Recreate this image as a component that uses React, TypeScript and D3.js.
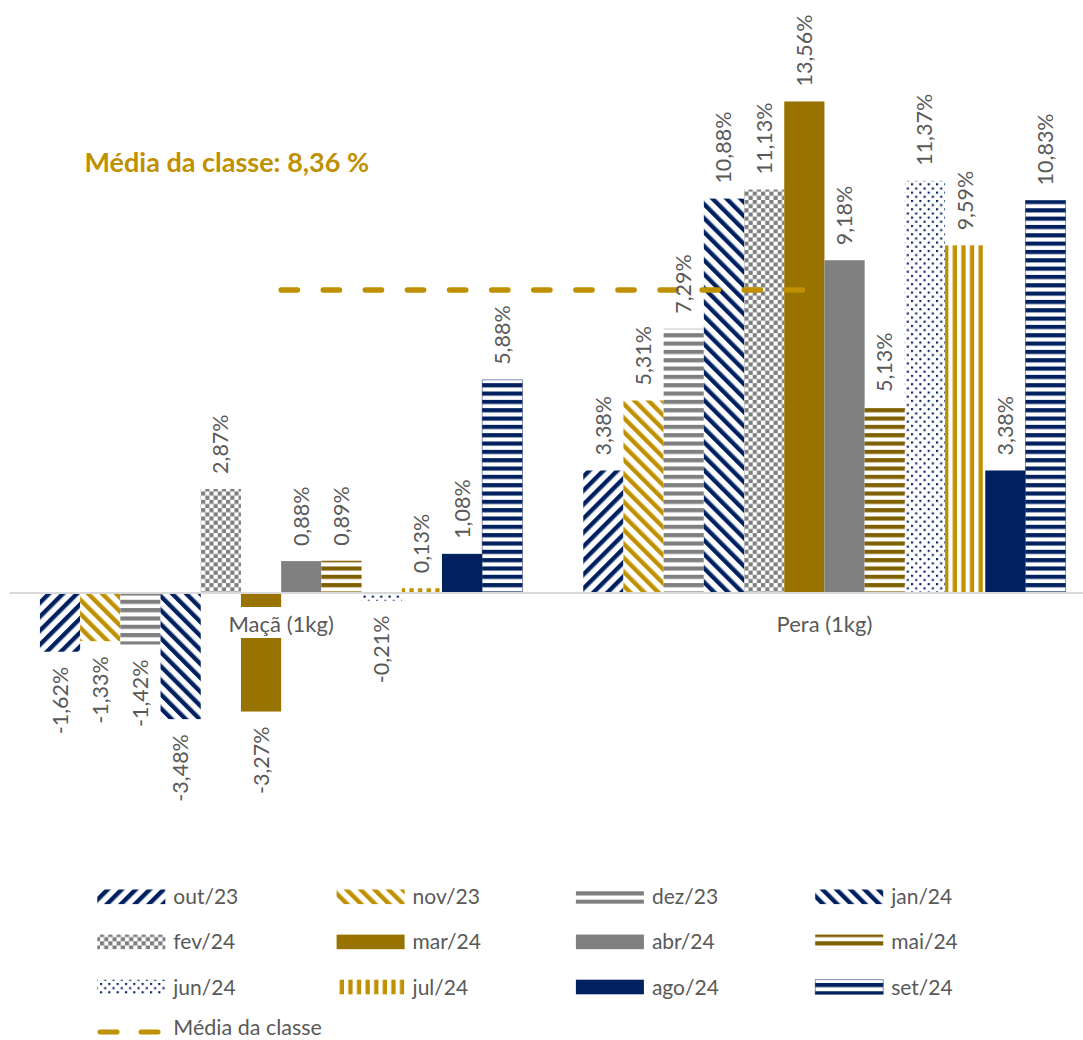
import React from "react";
import * as d3 from "d3";

const categories = ["Maçã (1kg)", "Pera (1kg)"];
const seriesNames = [
  "out/23", "nov/23", "dez/23", "jan/24", "fev/24", "mar/24",
  "abr/24", "mai/24", "jun/24", "jul/24", "ago/24", "set/24",
];
const macaValues = [-1.62, -1.33, -1.42, -3.48, 2.87, -3.27, 0.88, 0.89, -0.21, 0.13, 1.08, 5.88];
const peraValues = [3.38, 5.31, 7.29, 10.88, 11.13, 13.56, 9.18, 5.13, 11.37, 9.59, 3.38, 10.83];
const mediaValues = [8.36, 8.36];
const mediaLabel = "Média da classe";
const titleText = "Média da classe: 8,36 %";

const W = 1083;
const H = 1040;
const FONT = "Lato, 'Open Sans', sans-serif";
const NAVY = "#002060";
const GOLD = "#BF9000";
const DARKGOLD = "#997300";
const GRAY = "#7F7F7F";
const OLIVE = "#7F6000";
const TEXT = "#595959";

const fills = [
  "url(#p-out)", "url(#p-nov)", "url(#p-dez)", "url(#p-jan)", "url(#p-fev)", DARKGOLD,
  "#808080", "url(#p-mai)", "url(#p-jun)", "url(#p-jul)", NAVY, "url(#p-set)",
];

const fmt = (v: number) => v.toFixed(2).replace(".", ",") + "%";

export default function App() {
  const x0 = d3.scaleBand<string>().domain(categories).range([9.5, 1096.1]).paddingInner(0).paddingOuter(0);
  const x1 = d3
    .scaleBand<string>()
    .domain(seriesNames)
    .range([0, x0.bandwidth()])
    .paddingInner(0)
    .paddingOuter(0.757);
  const zeroY = 593;
  const k = 36.25;
  const y = d3.scaleLinear().domain([-4, 14]).range([zeroY + 4 * k, zeroY - 14 * k]);
  const values = [macaValues, peraValues];

  const lineGen = d3
    .line<number>()
    .x((_, i) => (x0(categories[i]) as number) + x0.bandwidth() / 2)
    .y((d) => y(d));

  const diagP = 9.9;
  const diagT = 4.4;
  const hp = 8.33;

  const legendX0 = 97.3;
  const legendDX = 239.3;
  const legendY0 = 896.8;
  const legendDY = 45.1;

  return (
    <svg
      width={W}
      height={H}
      viewBox={`0 0 ${W} ${H}`}
      style={{ position: "absolute", left: 0, top: 0, background: "#fff" }}
      fontFamily={FONT}
    >
      <defs>
        <pattern id="p-out" patternUnits="userSpaceOnUse" width={diagP} height={diagP} patternTransform="rotate(45)">
          <rect width={diagP} height={diagP} fill="#fff" />
          <rect width={diagT} height={diagP} fill={NAVY} />
        </pattern>
        <pattern id="p-nov" patternUnits="userSpaceOnUse" width={diagP} height={diagP} patternTransform="rotate(-45)">
          <rect width={diagP} height={diagP} fill="#fff" />
          <rect width={diagT} height={diagP} fill={GOLD} />
        </pattern>
        <pattern id="p-jan" patternUnits="userSpaceOnUse" width={diagP} height={diagP} patternTransform="rotate(-45)">
          <rect width={diagP} height={diagP} fill="#fff" />
          <rect width={diagT} height={diagP} fill={NAVY} />
        </pattern>
        <pattern id="p-dez" patternUnits="userSpaceOnUse" width={hp} height={hp}>
          <rect width={hp} height={hp} fill="#fff" />
          <rect width={hp} height={hp / 2} fill={GRAY} />
        </pattern>
        <pattern id="p-mai" patternUnits="userSpaceOnUse" width={hp} height={hp}>
          <rect width={hp} height={hp} fill="#fff" />
          <rect width={hp} height={hp / 2} fill={OLIVE} />
        </pattern>
        <pattern id="p-set" patternUnits="userSpaceOnUse" width={hp} height={hp}>
          <rect width={hp} height={hp} fill="#fff" />
          <rect width={hp} height={hp / 2} fill={NAVY} />
        </pattern>
        <pattern id="p-jul" patternUnits="userSpaceOnUse" width={8.6} height={8.6}>
          <rect width={8.6} height={8.6} fill="#fff" />
          <rect x={4.3} width={4.3} height={8.6} fill={GOLD} />
        </pattern>
        <pattern id="p-fev" patternUnits="userSpaceOnUse" width={hp} height={hp}>
          <rect width={hp} height={hp} fill="#fff" />
          <rect width={hp / 2} height={hp / 2} fill={GRAY} />
          <rect x={hp / 2} y={hp / 2} width={hp / 2} height={hp / 2} fill={GRAY} />
        </pattern>
        <pattern id="p-jun" patternUnits="userSpaceOnUse" width={hp} height={hp}>
          <rect width={hp} height={hp} fill="#fff" />
          <rect x={0} y={0} width={2.1} height={2.1} fill={NAVY} />
          <rect x={hp / 2} y={hp / 2} width={2.1} height={2.1} fill={NAVY} />
        </pattern>
      </defs>

      <rect width={W} height={H} fill="#fff" />

      {/* bars */}
      {categories.map((c, ci) => (
        <g key={c} transform={`translate(${x0(c)},0)`}>
          {seriesNames.map((s, si) => {
            const v = values[ci][si];
            const y1 = y(Math.max(0, v));
            const y2 = y(Math.min(0, v));
            return (
              <rect
                key={s}
                x={x1(s)}
                y={y1}
                width={x1.bandwidth()}
                height={y2 - y1}
                fill={fills[si]}
                stroke={s === "set/24" ? NAVY : "none"}
                strokeOpacity={0.6}
                strokeWidth={0.8}
              />
            );
          })}
        </g>
      ))}

      {/* zero axis */}
      <line x1={9.5} x2={W} y1={zeroY} y2={zeroY} stroke="#D9D9D9" strokeWidth={1.8} />

      {/* category labels */}
      {categories.map((c) => {
        const cx = (x0(c) as number) + x0.bandwidth() / 2;
        return (
          <g key={c}>
            <rect x={cx - 56} y={607} width={112} height={31} fill="#fff" />
            <text x={cx} y={632} textAnchor="middle" fontSize={22} fill={TEXT}>
              {c}
            </text>
          </g>
        );
      })}

      {/* average line */}
      <path
        d={lineGen(mediaValues) as string}
        fill="none"
        stroke={GOLD}
        strokeWidth={5.5}
        strokeLinecap="round"
        strokeDasharray="16.2 25.9"
      />

      {/* data labels */}
      {categories.map((c, ci) =>
        seriesNames.map((s, si) => {
          const v = values[ci][si];
          const cx = (x0(c) as number) + (x1(s) as number) + x1.bandwidth() / 2;
          const pos = v >= 0;
          const ty = pos ? y(v) - 15 : y(v) + 15;
          return (
            <text
              key={c + s}
              transform={`translate(${cx},${ty}) rotate(-90)`}
              textAnchor={pos ? "start" : "end"}
              dy="0.35em"
              fontSize={21.5}
              fill={TEXT}
            >
              {fmt(v)}
            </text>
          );
        })
      )}

      {/* title */}
      <text x={84.5} y={171.5} fontSize={27} fontWeight="bold" fill={GOLD}>
        {titleText}
      </text>

      {/* legend */}
      {seriesNames.map((s, i) => {
        const col = i % 4;
        const row = Math.floor(i / 4);
        const lx = legendX0 + col * legendDX;
        const ly = legendY0 + row * legendDY;
        return (
          <g key={s}>
            <rect
              x={lx}
              y={ly - 7.3}
              width={68}
              height={14.6}
              fill={fills[i]}
              stroke={s === "set/24" ? NAVY : "none"}
              strokeOpacity={0.6}
              strokeWidth={0.8}
            />
            <text x={lx + 76} y={ly + 7.5} fontSize={21} fill={TEXT}>
              {s}
            </text>
          </g>
        );
      })}
      <g>
        <line
          x1={legendX0 + 2.75}
          x2={legendX0 + 62}
          y1={legendY0 + 3 * legendDY}
          y2={legendY0 + 3 * legendDY}
          stroke={GOLD}
          strokeWidth={5}
          strokeLinecap="round"
          strokeDasharray="17 24"
        />
        <text x={legendX0 + 76} y={1035} fontSize={21.5} fill={TEXT}>
          {mediaLabel}
        </text>
      </g>
    </svg>
  );
}
